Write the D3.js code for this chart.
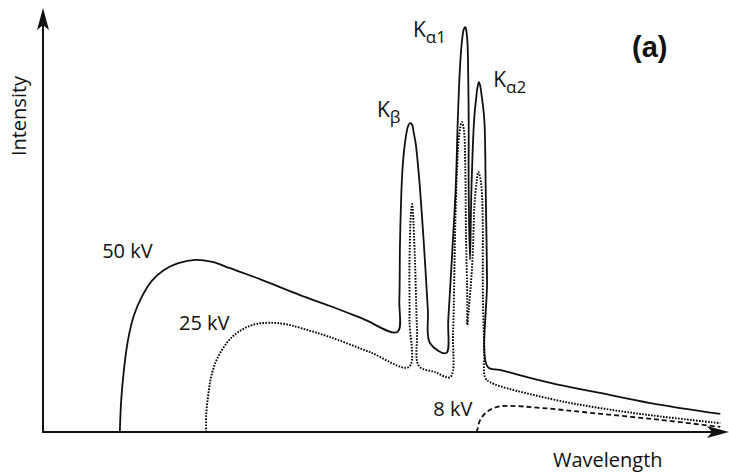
<!DOCTYPE html>
<html>
<head>
<meta charset="utf-8">
<script src="https://cdn.jsdelivr.net/npm/d3@7"></script>
<style>
  html, body { margin: 0; padding: 0; background: #fff; }
  svg { display: block; }
  text { font-family: "Open Sans", "Noto Sans", sans-serif; fill: #111; }
</style>
</head>
<body>
<svg id="chart" width="729" height="474"></svg>
<script>
// X-ray tube emission spectra (arbitrary units): wavelength vs. intensity
// for three accelerating voltages. Continuum + characteristic K lines.

// 50 kV: continuum with Kβ, Kα1 and Kα2 lines
const spectrum50kV = [
  [11.3, 0], [11.5, 7.6], [11.9, 14.8], [12.5, 21.9], [13.4, 27.9], [14.6, 32.4],
  [16.0, 36.0], [17.8, 38.6], [19.9, 40.2], [22.4, 41.0], [24.9, 40.5], [27.5, 39.0],
  [31.9, 36.4], [37.8, 32.6], [42.2, 30.0], [47.0, 27.0], [52.1, 23.8],
  // Kβ
  [52.4, 31.4], [52.5, 45.0], [52.8, 60.7], [53.1, 67.1], [53.4, 70.7], [53.7, 72.9],
  [54.0, 73.6], [54.3, 73.1], [54.5, 71.4], [54.8, 68.8], [55.3, 60.7], [56.0, 45.0],
  [56.6, 29.0], [56.9, 21.2], [59.3, 18.8],
  // Kα1 / Kα2 doublet
  [59.6, 26.7], [60.2, 43.3], [60.7, 58.3], [61.0, 74.3], [61.3, 86.2], [61.6, 92.9],
  [61.9, 96.0], [62.1, 96.4], [62.2, 96.0], [62.4, 93.3], [62.5, 88.6], [62.6, 74.3],
  [62.6, 57.6], [62.8, 41.0], [63.0, 57.6], [63.4, 74.3], [63.7, 79.5], [63.9, 82.1],
  [64.1, 83.3], [64.3, 82.4], [64.5, 80.2], [64.9, 74.3], [65.1, 58.3], [65.3, 36.2],
  [65.4, 15.5],
  [67.2, 14.8], [74.6, 11.7], [81.9, 9.3], [89.3, 6.9], [99.6, 4.3]
];

// 25 kV: lower continuum, weaker K lines
const spectrum25kV = [
  [24.0, 0], [24.0, 4.0], [24.3, 8.8], [24.7, 12.9], [25.4, 16.7], [26.5, 20.0],
  [27.8, 22.6], [29.4, 24.5], [31.3, 25.7], [33.4, 26.0], [35.6, 25.7], [37.8, 24.8],
  [42.2, 22.6], [48.1, 19.0], [53.8, 15.5],
  // Kβ
  [53.9, 26.7], [53.9, 41.0], [54.1, 51.7], [54.3, 54.3], [54.4, 52.4], [54.7, 41.0],
  [55.0, 24.3], [55.3, 15.7], [57.6, 14.3], [59.9, 13.1],
  // Kα1 / Kα2 doublet
  [60.3, 23.6], [60.6, 47.4], [60.9, 63.1], [61.2, 70.7], [61.6, 73.8], [61.9, 71.9],
  [62.1, 63.1], [62.2, 47.4], [62.4, 31.4], [62.4, 25.5], [62.6, 29.0], [63.1, 39.3],
  [63.5, 55.2], [63.8, 60.0], [64.0, 61.9], [64.3, 60.5], [64.6, 55.2], [64.7, 31.4],
  [64.9, 19.5], [65.0, 13.1],
  [65.7, 11.9], [74.6, 7.9], [81.9, 5.7], [89.3, 4.0], [99.6, 2.1]
];

// 8 kV: continuum only (below K-shell excitation)
const spectrum8kV = [
  [63.8, 0], [63.9, 0.7], [64.3, 2.9], [65.3, 4.8], [66.8, 6.0], [68.7, 6.2],
  [73.5, 5.7], [80.9, 4.5], [90.7, 2.9], [99.6, 1.2]
];

const voltageLabels = [
  { text: "50 kV", x: 8.7,  y: 41.4 },
  { text: "25 kV", x: 20.0, y: 24.3 },
  { text: "8 kV",  x: 57.4, y: 3.8 }
];

const lineLabels = [
  { main: "K", sub: "β",  x: 49.1, y: 75.0 },
  { main: "K", sub: "α1", x: 54.4, y: 94.0 },
  { main: "K", sub: "α2", x: 66.2, y: 82.1 }
];

const xTitle = "Wavelength";
const yTitle = "Intensity";
const panelTag = "(a)";

const svg = d3.select("#chart");
const ORIGIN_X = 43, ORIGIN_Y = 432;

const x = d3.scaleLinear().domain([0, 100]).range([ORIGIN_X, 723]);
const y = d3.scaleLinear().domain([0, 100]).range([ORIGIN_Y, 12]);

const line = d3.line()
  .x(d => x(d[0]))
  .y(d => y(d[1]))
  .curve(d3.curveCatmullRom.alpha(0.5));

// spectra
svg.append("path").datum(spectrum50kV)
  .attr("d", line).attr("fill", "none")
  .attr("stroke", "#111").attr("stroke-width", 1.8)
  .attr("stroke-linejoin", "round");

svg.append("path").datum(spectrum25kV)
  .attr("d", line).attr("fill", "none")
  .attr("stroke", "#000").attr("stroke-width", 1.9)
  .attr("stroke-dasharray", "1.6,1.4");

svg.append("path").datum(spectrum8kV)
  .attr("d", line).attr("fill", "none")
  .attr("stroke", "#111").attr("stroke-width", 1.8)
  .attr("stroke-dasharray", "5,3");

// axes with arrowheads
const axisG = svg.append("g");
axisG.append("line")
  .attr("x1", ORIGIN_X).attr("y1", ORIGIN_Y + 1)
  .attr("x2", ORIGIN_X).attr("y2", 16)
  .attr("stroke", "#111").attr("stroke-width", 2);
axisG.append("line")
  .attr("x1", ORIGIN_X - 1).attr("y1", ORIGIN_Y)
  .attr("x2", 722).attr("y2", ORIGIN_Y)
  .attr("stroke", "#111").attr("stroke-width", 2);

// stealth-style arrowheads
const yTip = 8, xTip = 729;
axisG.append("path")
  .attr("d", `M${ORIGIN_X},${yTip} L${ORIGIN_X + 6},${yTip + 22} L${ORIGIN_X},${yTip + 17} L${ORIGIN_X - 6},${yTip + 22} Z`)
  .attr("fill", "#111");
axisG.append("path")
  .attr("d", `M${xTip},${ORIGIN_Y} L${xTip - 22},${ORIGIN_Y - 6} L${xTip - 17},${ORIGIN_Y} L${xTip - 22},${ORIGIN_Y + 6} Z`)
  .attr("fill", "#111");

// axis titles
svg.append("text")
  .attr("x", 553).attr("y", 467)
  .attr("font-size", 20)
  .text(xTitle);

svg.append("text")
  .attr("transform", "translate(26,116) rotate(-90)")
  .attr("text-anchor", "middle")
  .attr("font-size", 20)
  .text(yTitle);

// voltage labels
svg.selectAll("text.volt").data(voltageLabels).join("text")
  .attr("class", "volt")
  .attr("x", d => x(d.x)).attr("y", d => y(d.y))
  .attr("font-size", 20)
  .text(d => d.text);

// characteristic line labels with subscripts
const kl = svg.selectAll("text.kline").data(lineLabels).join("text")
  .attr("class", "kline")
  .attr("x", d => x(d.x)).attr("y", d => y(d.y))
  .attr("font-size", 21);
kl.append("tspan").text(d => d.main);
kl.append("tspan").attr("font-size", 17).attr("dy", 6).text(d => d.sub);

// panel tag
svg.append("text")
  .attr("x", 632).attr("y", 57)
  .attr("font-weight", "bold")
  .attr("font-size", 29)
  .style("font-family", "'Liberation Sans', Arial, sans-serif")
  .text(panelTag);
</script>
</body>
</html>
